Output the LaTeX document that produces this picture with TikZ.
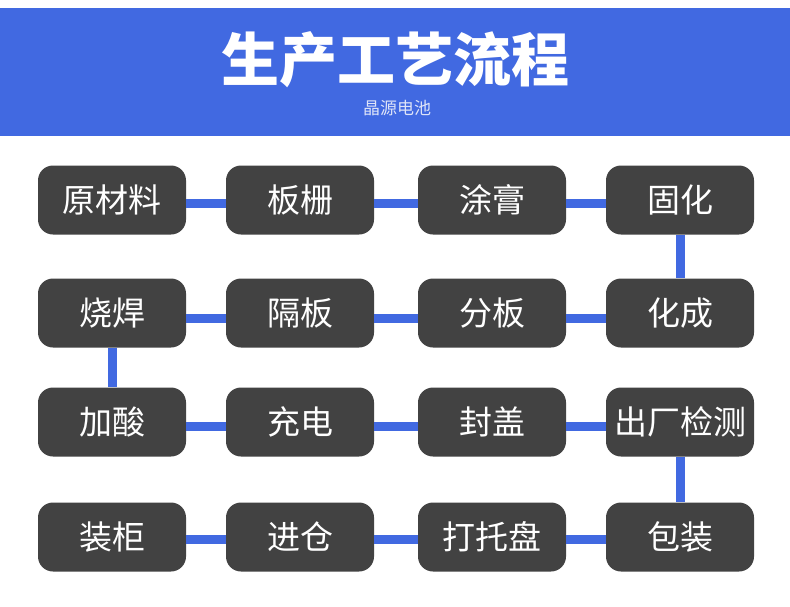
\documentclass[tikz,border=0pt]{standalone}
\usepackage{fontspec}
\setmainfont{Noto Sans CJK SC}
\definecolor{pasek}{RGB}{65,105,225}
\definecolor{skrzynka}{RGB}{66,66,66}
\definecolor{podpis}{RGB}{222,228,248}

\begin{document}
\begin{tikzpicture}[x=1pt, y=-1pt,
    etap/.style={draw=none, fill=skrzynka, rounded corners=15pt, minimum width=148pt,
      minimum height=69pt, inner sep=0pt, text=white, font=\fontsize{33}{33}\selectfont},
    lacz/.style={pasek, line width=9pt}]
    \useasboundingbox (0, 0) rectangle (790, 606);

    % Naglowek
    \fill[pasek] (0, 8) rectangle (790, 136);
    \node[text=white, font=\fontsize{58}{58}\selectfont\bfseries] (tytul) at (395, 60) {生产工艺流程};
    \node[text=podpis, font=\fontsize{17}{17}\selectfont] (podtytul) at (397, 108) {晶源电池};

    % Pierwszy rzad
    \node[etap] (a1) at (112, 200) {原材料};
    \node[etap] (a2) at (300, 200) {板栅};
    \node[etap] (a3) at (492, 200) {涂膏};
    \node[etap] (a4) at (680, 200) {固化};

    % Drugi rzad
    \node[etap] (b1) at (112, 313) {烧焊};
    \node[etap] (b2) at (300, 313) {隔板};
    \node[etap] (b3) at (492, 313) {分板};
    \node[etap] (b4) at (680, 313) {化成};

    % Trzeci rzad
    \node[etap] (c1) at (112, 422) {加酸};
    \node[etap] (c2) at (300, 422) {充电};
    \node[etap] (c3) at (492, 422) {封盖};
    \node[etap] (c4) at (680, 422) {出厂检测};

    % Czwarty rzad
    \node[etap] (d1) at (112, 537) {装柜};
    \node[etap] (d2) at (300, 537) {进仓};
    \node[etap] (d3) at (492, 537) {打托盘};
    \node[etap] (d4) at (680, 537) {包装};

    % Polaczenia
    \draw[lacz] ([yshift=-3pt]a1.east) -- ([yshift=-3pt]a2.west);
    \draw[lacz] ([yshift=-3pt]a2.east) -- ([yshift=-3pt]a3.west);
    \draw[lacz] ([yshift=-3pt]a3.east) -- ([yshift=-3pt]a4.west);
    \draw[lacz] (a4) -- (b4);
    \draw[lacz] ([yshift=-5pt]b4.west) -- ([yshift=-5pt]b3.east);
    \draw[lacz] ([yshift=-5pt]b3.west) -- ([yshift=-5pt]b2.east);
    \draw[lacz] ([yshift=-5pt]b2.west) -- ([yshift=-5pt]b1.east);
    \draw[lacz] (b1) -- (c1);
    \draw[lacz] ([yshift=-4pt]c1.east) -- ([yshift=-4pt]c2.west);
    \draw[lacz] ([yshift=-4pt]c2.east) -- ([yshift=-4pt]c3.west);
    \draw[lacz] ([yshift=-4pt]c3.east) -- ([yshift=-4pt]c4.west);
    \draw[lacz] (c4) -- (d4);
    \draw[lacz] ([yshift=-2.5pt]d4.west) -- ([yshift=-2.5pt]d3.east);
    \draw[lacz] ([yshift=-2.5pt]d3.west) -- ([yshift=-2.5pt]d2.east);
    \draw[lacz] ([yshift=-2.5pt]d2.west) -- ([yshift=-2.5pt]d1.east);
  \end{tikzpicture}
\end{document}
